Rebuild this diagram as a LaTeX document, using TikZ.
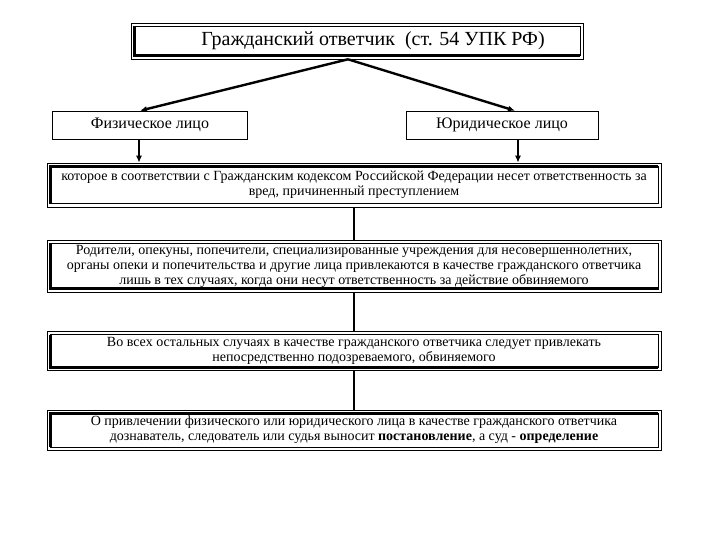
\documentclass[tikz,border=0pt]{standalone}
\usepackage{fontspec}
\setmainfont{Liberation Serif}
\usetikzlibrary{arrows.meta}
\tikzset{
  frame/.style={draw,line width=0.6pt,inner sep=0pt,align=center},
  bigbox/.style={frame,minimum width=614pt,font=\fontsize{14}{15}\selectfont},
  thickline/.style={line width=3pt},
  link/.style={line width=2.4pt,-{Latex[length=7pt,width=6pt]}},
  joint/.style={line width=1.6pt}
}
\begin{document}
\begin{tikzpicture}[x=1pt,y=-1pt]
      \useasboundingbox (0,0) rectangle (720,540);
      \node[frame,minimum width=452pt,minimum height=36pt,font=\fontsize{20}{22}\selectfont] (title) at (357,41) {\hspace*{32pt}Гражданский ответчик~ (ст. 54 УПК РФ)};
      \node[frame,minimum width=195pt,minimum height=28pt,font=\fontsize{16}{18}\selectfont] (fiz) at (150,125) {Физическое лицо};
      \node[frame,minimum width=192pt,minimum height=28pt,font=\fontsize{16}{18}\selectfont] (yur) at (502,125) {Юридическое лицо};
      
      \node[bigbox,minimum height=44pt] (harm) at (354,185) {которое в соответствии с Гражданским кодексом Российской Федерации несет ответственность за\\вред, причиненный преступлением};
      \node[bigbox,minimum height=52pt] (parents) at (354,266) {Родители, опекуны, попечители, специализированные учреждения для несовершеннолетних,\\органы опеки и попечительства и другие лица привлекаются в качестве гражданского ответчика\\лишь в тех случаях, когда они несут ответственность за действие обвиняемого};
      \node[bigbox,minimum height=39pt] (others) at (354,351) {Во всех остальных случаях в качестве гражданского ответчика следует привлекать\\непосредственно подозреваемого, обвиняемого};
      \node[bigbox,minimum height=40pt] (decision) at (354,430) {О привлечении физического или юридического лица в качестве гражданского ответчика\\дознаватель, следователь или судья выносит \textbf{постановление}, а суд - \textbf{определение}};
      
      % inner frames
      \foreach \n in {title,harm,parents,others,decision}
        \draw[line width=0.6pt] ([xshift=3.5pt,yshift=3.5pt]\n.south west) rectangle ([xshift=-3.5pt,yshift=-3.5pt]\n.north east);
      
      % thick sides
      \draw[thickline] ([xshift=3.5pt,yshift=-3.5pt]title.north west) -- ([xshift=3.5pt,yshift=3.5pt]title.south west) -- ([xshift=-3.5pt,yshift=3.5pt]title.south east);
      \draw[thickline] ([xshift=3.5pt,yshift=3.5pt]harm.south west) -- ([xshift=3.5pt,yshift=-3.5pt]harm.north west) -- ([xshift=-3.5pt,yshift=-3.5pt]harm.north east);
      \draw[thickline] ([xshift=3.5pt,yshift=-3.5pt]parents.north west) -- ([xshift=3.5pt,yshift=3.5pt]parents.south west) -- ([xshift=-3.5pt,yshift=3.5pt]parents.south east);
      \draw[thickline] ([xshift=3.5pt,yshift=-3.5pt]others.north west) -- ([xshift=3.5pt,yshift=3.5pt]others.south west) -- ([xshift=-3.5pt,yshift=3.5pt]others.south east);
      \draw[thickline] ([xshift=3.5pt,yshift=3.5pt]decision.south west) -- ([xshift=3.5pt,yshift=-3.5pt]decision.north west) -- ([xshift=-3.5pt,yshift=-3.5pt]decision.north east);
      
      % connectors
      \draw[link] ([xshift=-9pt]title.south) -- ([xshift=-10pt]fiz.north);
      \draw[link] ([xshift=-9pt]title.south) -- ([xshift=13pt]yur.north);
      \draw[link] ([xshift=-11pt]fiz.south) -- ([xshift=-11pt]fiz.south |- harm.north);
      \draw[link] ([xshift=16pt]yur.south) -- ([xshift=16pt]yur.south |- harm.north);
      \draw[joint] (harm) -- (parents);
      \draw[joint] (parents) -- (others);
      \draw[joint] (others) -- (decision);
    \end{tikzpicture}
\end{document}
